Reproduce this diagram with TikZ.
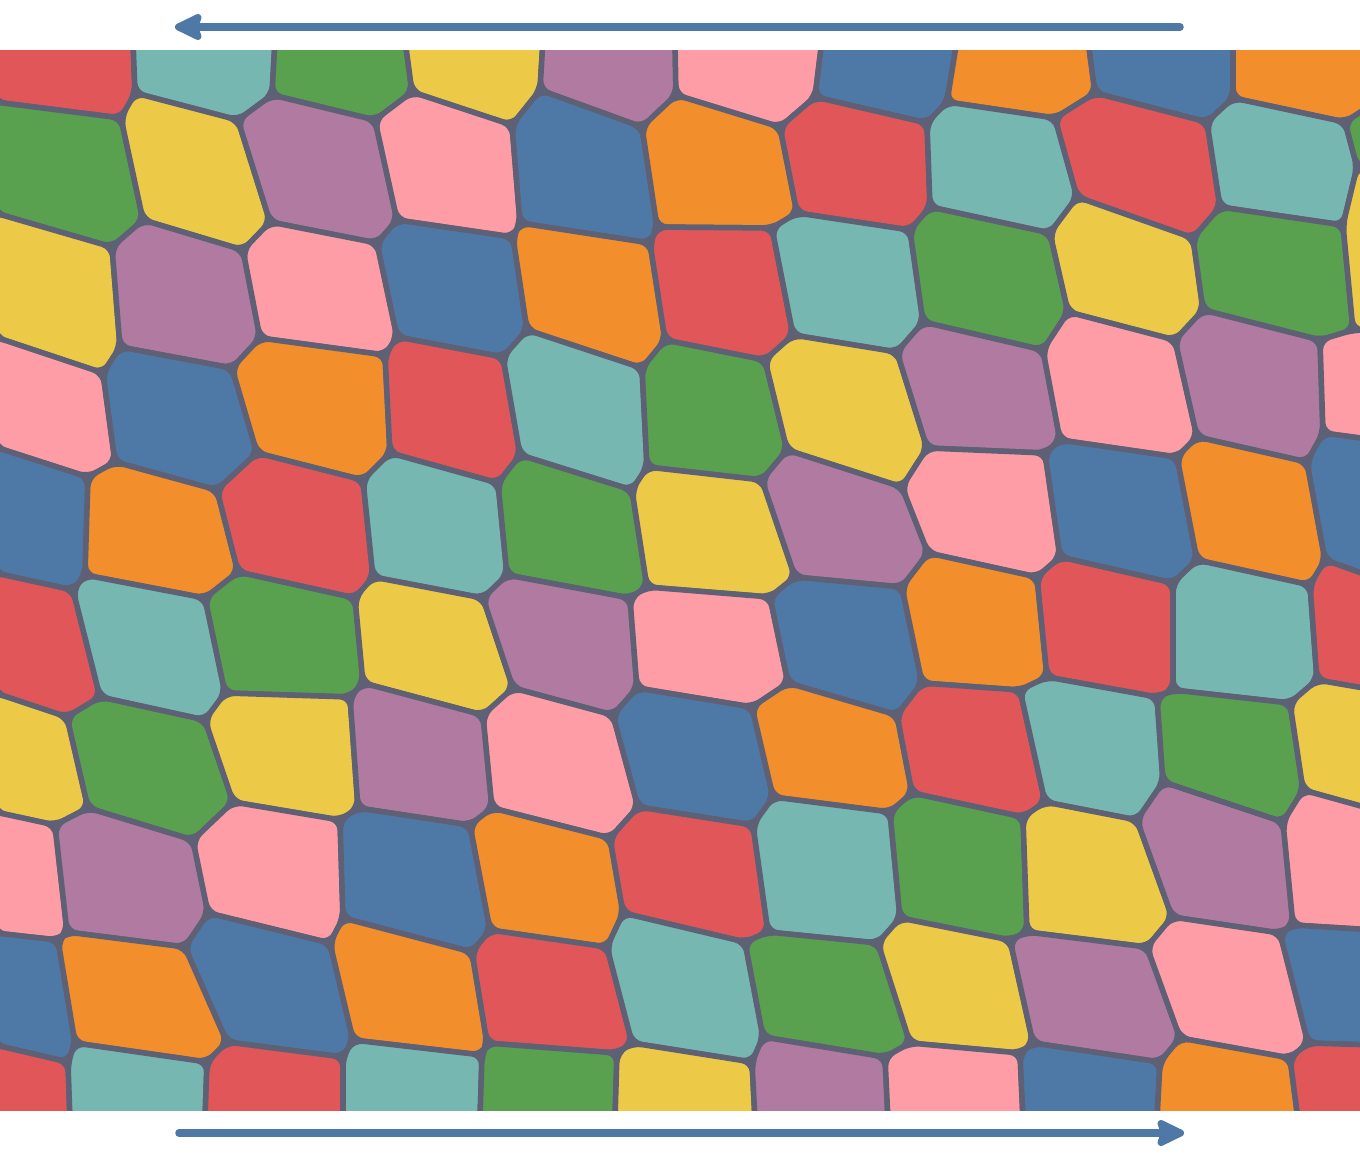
\documentclass[tikz,border=0pt]{standalone}
\usetikzlibrary{arrows.meta}
\definecolor{cR}{HTML}{E15759}
\definecolor{cT}{HTML}{76B7B2}
\definecolor{cG}{HTML}{59A14F}
\definecolor{cY}{HTML}{EDC948}
\definecolor{cP}{HTML}{B07AA1}
\definecolor{cK}{HTML}{FF9DA7}
\definecolor{cB}{HTML}{4E79A7}
\definecolor{cO}{HTML}{F28E2B}
\definecolor{bd}{HTML}{5E6075}
\newcommand\junc[6]{\coordinate (U-#1-#2) at (#3,#4); \coordinate (L-#1-#2) at (#5,#6);}
\newcommand\cellp[3]{%
  \pgfmathtruncatemacro\ra{#2-1}%
  \pgfmathtruncatemacro\cb{#3+1}%
  \filldraw[cellstyle, fill=#1] (L-\ra-#3) -- (U-\ra-#3) -- (L-\ra-\cb) -- (U-#2-\cb) -- (L-#2-\cb) -- (U-#2-#3) -- cycle;}
\newcommand\cellrow[2]{\foreach \cc [count=\ii from 0] in {#2} {\cellp{c\cc}{#1}{\ii}}}
\begin{document}
\begin{tikzpicture}[x=1pt,y=-1pt,
  cellstyle/.style={draw=bd, line width=5.5pt, rounded corners=10pt, line join=round},
  arr/.style={draw=cB, line width=7.5pt, line cap=round, -{Stealth[length=33pt,width=31pt,inset=5pt,round]}}]
\useasboundingbox (0,0) rectangle (1360,1160);
% junctions: U = lower end of upper row's boundary, L = upper end of lower row's boundary
\junc{0}{0}{-5}{40}{-10}{40}
\junc{0}{1}{138}{40}{133}{40}
\junc{0}{2}{280}{40}{275}{40}
\junc{0}{3}{410}{40}{405}{40}
\junc{0}{4}{548}{40}{543}{40}
\junc{0}{5}{680}{40}{675}{40}
\junc{0}{6}{827}{40}{822}{40}
\junc{0}{7}{962}{40}{957}{40}
\junc{0}{8}{1093}{40}{1088}{40}
\junc{0}{9}{1238}{40}{1233}{40}
\junc{0}{10}{1380}{40}{1375}{40}
%
\junc{1}{0}{-5}{102}{-10}{102}
\junc{1}{1}{135}{93}{121}{118}
\junc{1}{2}{272}{95}{238}{120}
\junc{1}{3}{412}{92}{375}{120}
\junc{1}{4}{540}{90}{512}{125}
\junc{1}{5}{676}{95}{642}{127}
\junc{1}{6}{815}{97}{780}{127}
\junc{1}{7}{947}{102}{927}{123}
\junc{1}{8}{1095}{93}{1055}{118}
\junc{1}{9}{1233}{98}{1207}{122}
\junc{1}{10}{1370}{106}{1345}{122}
\junc{1}{11}{1380}{106}{1375}{106}
%
\junc{2}{0}{-5}{213}{-10}{213}
\junc{2}{1}{143}{220}{112}{247}
\junc{2}{2}{270}{222}{243}{250}
\junc{2}{3}{397}{220}{377}{243}
\junc{2}{4}{520}{223}{513}{237}
\junc{2}{5}{657}{227}{650}{243}
\junc{2}{6}{797}{213}{772}{228}
\junc{2}{7}{930}{207}{910}{230}
\junc{2}{8}{1077}{197}{1050}{233}
\junc{2}{9}{1220}{207}{1193}{238}
\junc{2}{10}{1357}{167}{1343}{225}
\junc{2}{11}{1370}{168}{1375}{168}
%
\junc{3}{0}{-5}{337}{-10}{337}
\junc{3}{1}{120}{347}{103}{373}
\junc{3}{2}{260}{338}{232}{368}
\junc{3}{3}{397}{337}{385}{355}
\junc{3}{4}{527}{330}{503}{357}
\junc{3}{5}{665}{340}{642}{368}
\junc{3}{6}{793}{335}{765}{360}
\junc{3}{7}{923}{322}{897}{352}
\junc{3}{8}{1068}{312}{1043}{350}
\junc{3}{9}{1203}{310}{1175}{340}
\junc{3}{10}{1353}{330}{1320}{340}
\junc{3}{11}{1370}{330}{1375}{330}
%
\junc{4}{0}{-5}{447}{-10}{447}
\junc{4}{1}{115}{462}{88}{477}
\junc{4}{2}{257}{453}{217}{490}
\junc{4}{3}{390}{453}{363}{480}
\junc{4}{4}{520}{455}{498}{483}
\junc{4}{5}{647}{467}{632}{490}
\junc{4}{6}{787}{450}{762}{480}
\junc{4}{7}{927}{448}{902}{487}
\junc{4}{8}{1060}{440}{1045}{453}
\junc{4}{9}{1197}{437}{1177}{457}
\junc{4}{10}{1323}{433}{1307}{462}
\junc{4}{11}{1370}{440}{1375}{440}
%
\junc{5}{0}{-5}{573}{-10}{573}
\junc{5}{1}{85}{575}{73}{590}
\junc{5}{2}{238}{572}{205}{598}
\junc{5}{3}{373}{577}{355}{598}
\junc{5}{4}{507}{575}{483}{598}
\junc{5}{5}{647}{587}{630}{598}
\junc{5}{6}{795}{577}{770}{597}
\junc{5}{7}{928}{553}{902}{587}
\junc{5}{8}{1060}{557}{1037}{577}
\junc{5}{9}{1197}{560}{1173}{583}
\junc{5}{10}{1325}{560}{1310}{585}
\junc{5}{11}{1370}{578}{1375}{578}
%
\junc{6}{0}{-5}{693}{-10}{693}
\junc{6}{1}{100}{697}{67}{717}
\junc{6}{2}{225}{693}{205}{720}
\junc{6}{3}{363}{683}{350}{697}
\junc{6}{4}{513}{688}{483}{715}
\junc{6}{5}{637}{688}{613}{715}
\junc{6}{6}{788}{683}{752}{707}
\junc{6}{7}{922}{683}{897}{715}
\junc{6}{8}{1047}{677}{1020}{690}
\junc{6}{9}{1173}{690}{1157}{697}
\junc{6}{10}{1317}{680}{1290}{703}
\junc{6}{11}{1370}{690}{1375}{690}
%
\junc{7}{0}{-5}{812}{-10}{812}
\junc{7}{1}{88}{808}{55}{825}
\junc{7}{2}{233}{802}{193}{840}
\junc{7}{3}{358}{808}{340}{820}
\junc{7}{4}{492}{808}{470}{825}
\junc{7}{5}{638}{807}{610}{838}
\junc{7}{6}{773}{797}{753}{825}
\junc{7}{7}{912}{793}{890}{812}
\junc{7}{8}{1045}{802}{1023}{817}
\junc{7}{9}{1163}{782}{1137}{820}
\junc{7}{10}{1303}{790}{1283}{822}
\junc{7}{11}{1370}{810}{1375}{810}
%
\junc{8}{0}{-5}{933}{-10}{933}
\junc{8}{1}{67}{932}{58}{940}
\junc{8}{2}{208}{913}{185}{947}
\junc{8}{3}{343}{918}{330}{943}
\junc{8}{4}{490}{930}{472}{952}
\junc{8}{5}{623}{913}{607}{947}
\junc{8}{6}{768}{932}{745}{942}
\junc{8}{7}{900}{918}{878}{943}
\junc{8}{8}{1027}{932}{1010}{940}
\junc{8}{9}{1172}{917}{1147}{947}
\junc{8}{10}{1293}{925}{1280}{933}
\junc{8}{11}{1370}{930}{1375}{930}
%
\junc{9}{0}{-5}{1045}{-10}{1045}
\junc{9}{1}{75}{1043}{68}{1062}
\junc{9}{2}{227}{1042}{207}{1062}
\junc{9}{3}{353}{1040}{343}{1057}
\junc{9}{4}{487}{1043}{482}{1055}
\junc{9}{5}{632}{1043}{617}{1053}
\junc{9}{6}{763}{1037}{752}{1062}
\junc{9}{7}{910}{1043}{885}{1057}
\junc{9}{8}{1033}{1043}{1020}{1053}
\junc{9}{9}{1180}{1038}{1160}{1062}
\junc{9}{10}{1308}{1043}{1290}{1058}
\junc{9}{11}{1370}{1045}{1375}{1045}
%
\junc{10}{0}{-5}{1120}{-10}{1120}
\junc{10}{1}{70}{1120}{65}{1120}
\junc{10}{2}{205}{1120}{200}{1120}
\junc{10}{3}{343}{1120}{338}{1120}
\junc{10}{4}{480}{1120}{475}{1120}
\junc{10}{5}{615}{1120}{610}{1120}
\junc{10}{6}{755}{1120}{750}{1120}
\junc{10}{7}{888}{1120}{883}{1120}
\junc{10}{8}{1023}{1120}{1018}{1120}
\junc{10}{9}{1157}{1120}{1152}{1120}
\junc{10}{10}{1298}{1120}{1293}{1120}
\junc{10}{11}{1370}{1120}{1365}{1120}
%
\begin{scope}
\clip (0,50) rectangle (1360,1110);
\fill[bd] (0,50) rectangle (1360,1110);
\cellrow{1}{R,T,G,Y,P,K,B,O,B,O}
\cellrow{2}{G,Y,P,K,B,O,R,T,R,T,G}
\cellrow{3}{Y,P,K,B,O,R,T,G,Y,G,Y}
\cellrow{4}{K,B,O,R,T,G,Y,P,K,P,K}
\cellrow{5}{B,O,R,T,G,Y,P,K,B,O,B}
\cellrow{6}{R,T,G,Y,P,K,B,O,R,T,R}
\cellrow{7}{Y,G,Y,P,K,B,O,R,T,G,Y}
\cellrow{8}{K,P,K,B,O,R,T,G,Y,P,K}
\cellrow{9}{B,O,B,O,R,T,G,Y,P,K,B}
\cellrow{10}{R,T,R,T,G,Y,P,K,B,O,R}
\end{scope}
% shear arrows
\coordinate (topStart) at (1180,27);
\coordinate (topEnd) at (175,27);
\coordinate (botStart) at (179,1133);
\coordinate (botEnd) at (1184,1133);
\draw[arr] (topStart) -- (topEnd);
\draw[arr] (botStart) -- (botEnd);
\end{tikzpicture}
\end{document}
